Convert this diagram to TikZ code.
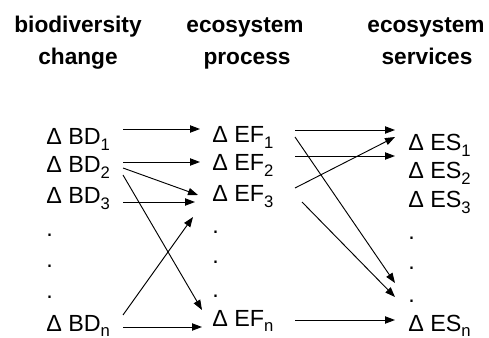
\documentclass[tikz,border=0pt]{standalone}
\usepackage{fontspec}
\setmainfont{Liberation Sans}
\usetikzlibrary{arrows.meta}
\newcommand{\mysub}[1]{\raisebox{-4pt}{\fontsize{12.5}{13}\selectfont #1}}
\begin{document}
\begin{tikzpicture}[x=0.75pt,y=-0.75pt,
  lbl/.style={anchor=base west,inner sep=0pt,font=\fontsize{17.5}{20}\selectfont},
  hdr/.style={anchor=base,inner sep=0pt,font=\fontsize{17}{20}\selectfont\bfseries},
  arr/.style={-{Triangle[length=7.5pt,width=5.5pt]},line width=0.7pt}]
\useasboundingbox (0,0) rectangle (489,338);
% headers
\node[hdr] (h1a) at (78,33) {biodiversity};
\node[hdr] (h1b) at (78,65) {change};
\node[hdr] (h2a) at (245,33) {ecosystem};
\node[hdr] (h2b) at (247,65) {process};
\node[hdr] (h3a) at (426,33) {ecosystem};
\node[hdr] (h3b) at (427,65) {services};
% biodiversity column
\node[lbl] (bd1) at (46,145) {Δ BD\mysub{1}};
\node[lbl] (bd2) at (46,173) {Δ BD\mysub{2}};
\node[lbl] (bd3) at (46,204) {Δ BD\mysub{3}};
\node[lbl] (bdd1) at (46,237) {.};
\node[lbl] (bdd2) at (46,268) {.};
\node[lbl] (bdd3) at (46,299) {.};
\node[lbl] (bdn) at (46,331) {Δ BD\mysub{n}};
% function column
\node[lbl] (ef1) at (212,143) {Δ EF\mysub{1}};
\node[lbl] (ef2) at (212,171) {Δ EF\mysub{2}};
\node[lbl] (ef3) at (212,202) {Δ EF\mysub{3}};
\node[lbl] (efd1) at (212,234) {.};
\node[lbl] (efd2) at (212,264) {.};
\node[lbl] (efd3) at (212,297) {.};
\node[lbl] (efn) at (212,326) {Δ EF\mysub{n}};
% services column
\node[lbl] (es1) at (408,151) {Δ ES\mysub{1}};
\node[lbl] (es2) at (408,179) {Δ ES\mysub{2}};
\node[lbl] (es3) at (408,208) {Δ ES\mysub{3}};
\node[lbl] (esd1) at (408,240) {.};
\node[lbl] (esd2) at (408,270) {.};
\node[lbl] (esd3) at (408,302) {.};
\node[lbl] (esn) at (408,331) {Δ ES\mysub{n}};
% connector ports
\coordinate (bd1o) at (123,129);
\coordinate (bd2o) at (123,162);
\coordinate (bd2p) at (123,168);
\coordinate (bd2q) at (123,175);
\coordinate (bd3o) at (123,202);
\coordinate (bdnp) at (123,315);
\coordinate (bdno) at (123,327);
\coordinate (ef1i) at (200,129);
\coordinate (ef2i) at (200,162);
\coordinate (ef3i) at (198,195);
\coordinate (ef3j) at (195,202);
\coordinate (ef3k) at (193,217);
\coordinate (efnj) at (202,310);
\coordinate (efni) at (202,327);
\coordinate (ef1o) at (295,130);
\coordinate (ef1p) at (295,137);
\coordinate (ef2o) at (295,156);
\coordinate (ef3o) at (295,188);
\coordinate (ef3p) at (302,202);
\coordinate (efno) at (295,320);
\coordinate (es1i) at (395,130);
\coordinate (es1j) at (395,137);
\coordinate (es2i) at (395,156);
\coordinate (esdi) at (395,283);
\coordinate (esdj) at (395,297);
\coordinate (esni) at (395,320);
% connectors
\draw[arr] (bd1o) -- (ef1i);
\draw[arr] (bd2o) -- (ef2i);
\draw[arr] (bd2p) -- (ef3i);
\draw[arr] (bd2q) -- (efnj);
\draw[arr] (bd3o) -- (ef3j);
\draw[arr] (bdnp) -- (ef3k);
\draw[arr] (bdno) -- (efni);
\draw[arr] (ef1o) -- (es1i);
\draw[arr] (ef1p) -- (esdi);
\draw[arr] (ef2o) -- (es2i);
\draw[arr] (ef3o) -- (es1j);
\draw[arr] (ef3p) -- (esdj);
\draw[arr] (efno) -- (esni);
\end{tikzpicture}
\end{document}
